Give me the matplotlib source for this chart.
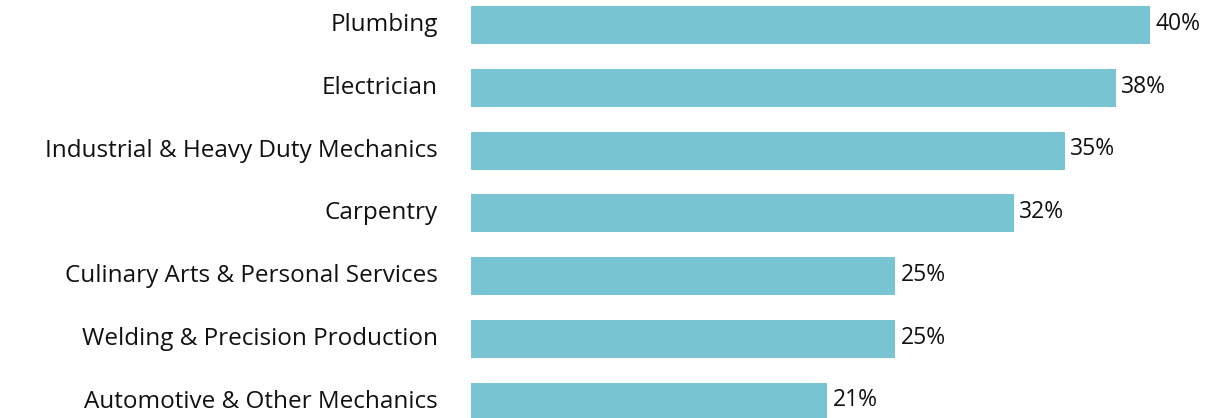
import matplotlib
matplotlib.use("Agg")
from matplotlib import pyplot as plt

categories = ["Plumbing", "Electrician", "Industrial & Heavy Duty Mechanics",
              "Carpentry", "Culinary Arts & Personal Services",
              "Welding & Precision Production", "Automotive & Other Mechanics"]
values = [40, 38, 35, 32, 25, 25, 21]
labels = ["40%", "38%", "35%", "32%", "25%", "25%", "21%"]

plt.rcParams['font.family'] = ['Open Sans', 'DejaVu Sans']

fig = plt.figure(figsize=(12.15, 4.18), dpi=100)
ax = fig.add_axes([471 / 1215, 0, 1 - 471 / 1215, 1])

pos = list(range(len(categories)))
ax.barh(pos, values, height=0.605, color='#78c4d3')

for y, v, lab in zip(pos, values, labels):
    ax.text(v + 0.3, y - 0.02, lab, va='center', ha='left', fontsize=16.5, color='#111111')

for y, cat in zip(pos, categories):
    ax.text(-1.95, y, cat, va='center', ha='right', fontsize=17.5,
            color='#111111', clip_on=False)

ax.set_xlim(0, 744 / 16.975)
ax.set_ylim(6.26, -0.40)
ax.axis('off')

fig.savefig("out.png", dpi=100)
